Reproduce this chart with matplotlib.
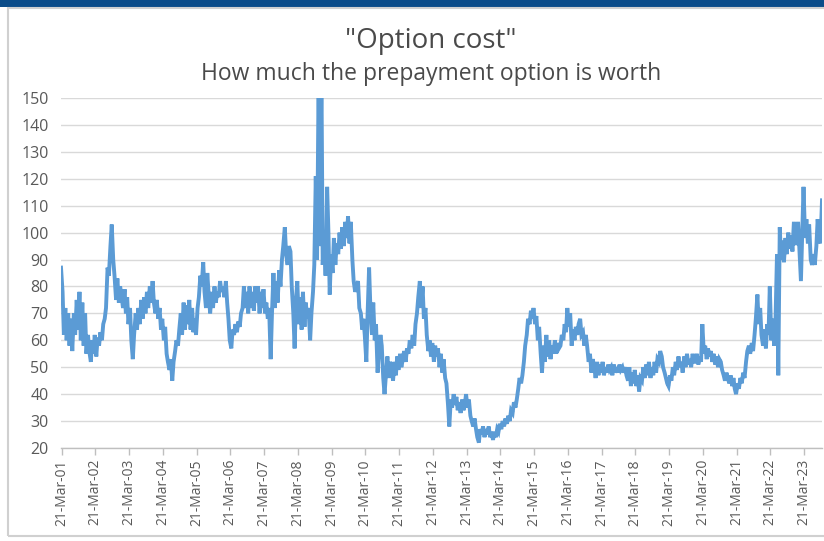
"""Option cost time series: how much the prepayment option is worth."""

import matplotlib
matplotlib.use("Agg")
import matplotlib.pyplot as plt
import matplotlib.dates as mdates
from matplotlib.patches import Rectangle
import numpy as np
import pandas as pd

plt.rcParams["font.family"] = ["Open Sans", "DejaVu Sans"]

# ── Data: semi-monthly readings (1st and 15th), from mid-March 2001 ─────
y2001 = [87, 78, 62, 72, 60, 70, 58, 68, 56, 70, 62, 75, 64, 78, 60, 74, 58, 70, 55]
y2002 = [62, 56, 52, 60, 55, 62, 54, 61, 58, 63, 60, 66, 68, 72, 87, 84, 95, 103, 90, 84, 75, 83, 74, 80]
y2003 = [76, 72, 79, 70, 76, 66, 72, 60, 53, 62, 70, 64, 72, 66, 75, 68, 76, 70, 78, 72, 80, 74, 82, 74]
y2004 = [70, 75, 68, 72, 64, 68, 60, 65, 55, 52, 49, 53, 45, 52, 56, 60, 58, 64, 70, 62, 74, 64, 73, 66]
y2005 = [75, 64, 72, 63, 68, 62, 72, 76, 84, 80, 89, 78, 72, 85, 76, 70, 78, 72, 80, 74, 78, 76, 82, 78]
y2006 = [80, 76, 82, 74, 68, 60, 57, 64, 62, 66, 63, 67, 65, 70, 72, 80, 72, 78, 70, 80, 72, 78, 71, 80]
y2007 = [74, 80, 70, 78, 72, 79, 70, 74, 68, 72, 53, 70, 85, 72, 82, 74, 86, 80, 90, 95, 102, 92, 88, 95]
y2008 = [93, 80, 70, 57, 75, 82, 66, 76, 64, 78, 65, 74, 68, 72, 60, 70, 78, 88, 121, 90, 158, 95, 160, 88]
y2009 = [98, 84, 117, 100, 77, 92, 85, 98, 88, 96, 92, 100, 94, 102, 95, 104, 98, 106, 96, 104, 90, 82, 78, 80]
y2010 = [82, 72, 70, 64, 68, 62, 52, 70, 87, 72, 62, 74, 60, 66, 48, 56, 62, 58, 46, 40, 48, 54, 46, 52]
y2011 = [50, 45, 52, 47, 54, 49, 55, 50, 53, 56, 52, 57, 55, 60, 57, 62, 58, 66, 70, 76, 82, 72, 80, 68]
y2012 = [72, 62, 56, 60, 54, 59, 52, 58, 54, 57, 50, 55, 48, 53, 46, 44, 36, 28, 38, 35, 40, 36, 39, 34]
y2013 = [37, 33, 38, 34, 36, 40, 35, 38, 32, 30, 28, 31, 27, 24, 22, 27, 25, 28, 24, 27, 25, 28, 24, 26]
y2014 = [23, 26, 24, 27, 26, 29, 27, 30, 28, 31, 29, 32, 30, 34, 33, 37, 35, 38, 42, 46, 44, 47, 52, 58]
y2015 = [62, 68, 66, 71, 68, 72, 66, 69, 60, 65, 55, 48, 58, 52, 62, 54, 60, 53, 58, 55, 60, 55, 59, 57]
y2016 = [58, 62, 60, 66, 63, 72, 65, 70, 58, 64, 60, 65, 62, 66, 68, 62, 63, 58, 62, 58, 52, 55, 48, 53]
y2017 = [50, 46, 52, 47, 51, 48, 52, 47, 50, 48, 51, 49, 50, 47, 51, 48, 50, 48, 51, 49, 50, 48, 50, 47]
y2018 = [45, 50, 43, 48, 44, 49, 43, 47, 41, 46, 45, 50, 46, 51, 47, 52, 46, 50, 47, 52, 48, 53, 52, 56]
y2019 = [54, 50, 48, 46, 44, 43, 47, 45, 50, 47, 52, 49, 54, 50, 52, 48, 54, 50, 55, 51, 53, 50, 55, 52]
y2020 = [52, 55, 51, 54, 52, 66, 55, 58, 53, 57, 54, 56, 52, 55, 51, 54, 50, 53, 52, 49, 47, 45, 48, 46]
y2021 = [44, 47, 43, 46, 42, 40, 44, 42, 46, 44, 48, 46, 52, 56, 58, 55, 59, 56, 62, 68, 77, 66, 72, 62]
y2022 = [58, 64, 57, 66, 62, 80, 60, 68, 58, 66, 92, 47, 102, 90, 97, 89, 98, 92, 100, 94, 99, 93, 104, 96]
y2023 = [96, 104, 92, 82, 100, 117, 98, 105, 96, 103, 90, 88, 92, 88, 95, 105, 98, 96, 112]

yearly = [y2001, y2002, y2003, y2004, y2005, y2006, y2007, y2008, y2009, y2010, y2011, y2012,
          y2013, y2014, y2015, y2016, y2017, y2018, y2019, y2020, y2021, y2022, y2023]
tick_years = list(range(2001, 2024))

option_cost = np.concatenate([np.array(v, dtype=float) for v in yearly])
dates = pd.date_range("2001-03-15", periods=len(option_cost), freq="SMS")

# ── Figure ───────────────────────────────────────────────────────────────
W, H = 824, 541
fig = plt.figure(figsize=(W / 100, H / 100), dpi=100)

# header band and chart border
fig.patches.append(Rectangle((0, 1 - 7 / H), 1, 7 / H, transform=fig.transFigure,
                             facecolor="#0B4C89", edgecolor="none"))
fig.patches.append(Rectangle((8 / W, 1 - 536 / H), 1.0, (536 - 8) / H, transform=fig.transFigure,
                             facecolor="none", edgecolor="#D0D0D0", linewidth=1.5))

ax = fig.add_axes([61 / W, 1 - 448 / H, (822 - 61) / W, 350 / H])
ax.plot(dates, option_cost, color="#5B9BD5", linewidth=2.8, solid_joinstyle="miter")

ax.set_ylim(20, 150)
ax.set_yticks(np.arange(20, 151, 10))
ax.set_xlim(dates[0], dates[-1])
ax.set_xticks([pd.Timestamp(f"{y}-03-21") for y in tick_years])
ax.xaxis.set_major_formatter(mdates.DateFormatter("%d-%b-%y"))

ax.grid(axis="y", color="#D9D9D9", linewidth=1)
ax.set_axisbelow(True)
for side in ["top", "right", "left"]:
    ax.spines[side].set_visible(False)
ax.spines["bottom"].set_color("#BFBFBF")
ax.spines["bottom"].set_linewidth(1)

ax.tick_params(axis="y", length=0, pad=9, labelsize=11.5, labelcolor="#595959")
ax.tick_params(axis="x", length=5, width=1, color="#BFBFBF", pad=3,
               labelsize=10, labelcolor="#595959", labelrotation=90)

fig.text(0.523, 1 - 41 / H, '"Option cost"', ha="center", va="center",
         fontsize=20, color="#4A4A4A")
fig.text(0.523, 1 - 74 / H, "How much the prepayment option is worth", ha="center",
         va="center", fontsize=16.5, color="#4A4A4A")

fig.savefig("out.png", dpi=100)
